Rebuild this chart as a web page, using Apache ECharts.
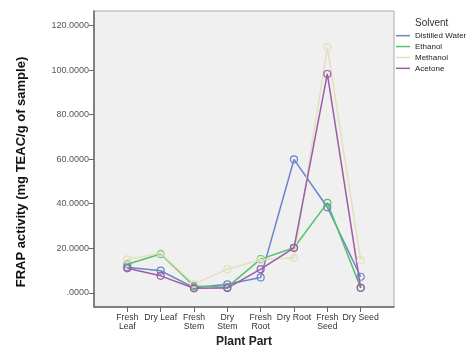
<!DOCTYPE html>
<html><head><meta charset="utf-8">
<script src="https://cdn.jsdelivr.net/npm/echarts@6/dist/echarts.min.js"></script>
<style>html,body{margin:0;padding:0;background:#fff}#c{width:471px;height:352px}</style>
</head><body><div id="c"></div>
<script>
const categories = ["Fresh\nLeaf","Dry Leaf","Fresh\nStem","Dry\nStem","Fresh\nRoot","Dry Root","Fresh\nSeed","Dry Seed"];
const distilledWater = [11.5, 9.9, 2.3, 3.8, 6.9, 59.9, 38.4, 7.2];
const ethanol        = [12.8, 17.4, 3.0, 2.5, 15.1, 20.2, 40.4, 2.2];
const methanol       = [15.0, 17.8, 3.9, 10.6, 14.8, 15.7, 110.3, 14.7];
const acetone        = [11.0, 7.6, 2.0, 2.1, 10.6, 20.2, 98.3, 2.2];
const yTicks = [0, 20, 40, 60, 80, 100, 120];
const seriesNames = ["Distilled Water","Ethanol","Methanol","Acetone"];
const seriesData = [distilledWater, ethanol, methanol, acetone];
const colors = ["#6c84c8","#55c26e","#e4dfbd","#9c5ca8"];
const font = "Liberation Sans, Arial, sans-serif";

const chart = echarts.init(document.getElementById('c'), null, {renderer:'canvas'});
chart.setOption({
  animation:false,
  backgroundColor:'#fff',
  title:{text:'Solvent', left:410, top:13, textStyle:{fontSize:10, fontWeight:'normal', color:'#333', fontFamily:font}},
  legend:{orient:'vertical', left:396, top:30.5, padding:0, icon:'rect', itemWidth:14, itemHeight:1.5, itemGap:0.6,
    textStyle:{fontSize:8, color:'#222', fontFamily:font, lineHeight:10.3},
    data:seriesNames.map((n,i)=>({name:n, itemStyle:{color:colors[i], borderWidth:0}}))},
  grid:{left:94, right:77, top:11, bottom:45, show:true, containLabel:false, outerBoundsMode:'none',
    backgroundColor:'#f0f0f0', borderColor:'#aaa', borderWidth:1},
  xAxis:{type:'value', min:-1, max:8, interval:1,
    name:'Plant Part', nameLocation:'middle', nameGap:29,
    nameTextStyle:{fontSize:12, fontWeight:'bold', color:'#222', fontFamily:font},
    axisLine:{show:true, onZero:false, lineStyle:{color:'#666', width:1.5}},
    axisTick:{show:true, length:5, lineStyle:{color:'#666'}, customValues:[0,1,2,3,4,5,6,7]},
    axisLabel:{customValues:[0,1,2,3,4,5,6,7], formatter:v=>categories[v]||'', fontSize:8.7, color:'#333', fontFamily:font, lineHeight:9, margin:6, verticalAlign:'top'},
    splitLine:{show:false}},
  yAxis:{type:'value', min:-6.4, max:126.6,
    name:'FRAP activity (mg TEAC/g of sample)', nameLocation:'middle', nameGap:66,
    nameTextStyle:{fontSize:13, fontWeight:'bold', color:'#111', fontFamily:font, padding:[0,26,0,0]},
    axisLine:{show:true, onZero:false, lineStyle:{color:'#666', width:1.5}},
    axisTick:{show:true, length:5, lineStyle:{color:'#666'}, customValues:yTicks},
    axisLabel:{customValues:yTicks, formatter:v=> v===0 ? '.0000' : v.toFixed(4), fontSize:9, color:'#555', fontFamily:font, margin:5},
    splitLine:{show:false}},
  series: seriesNames.map((n,i)=>({
    name:n, type:'line', data:seriesData[i].map((v,j)=>[j,v]),
    symbol:'circle', symbolSize:7, clip:false,
    lineStyle:{color:colors[i], width:1.5},
    itemStyle:{color:'rgba(0,0,0,0)', borderColor:colors[i], borderWidth:1.2}
  }))
});
</script></body></html>
